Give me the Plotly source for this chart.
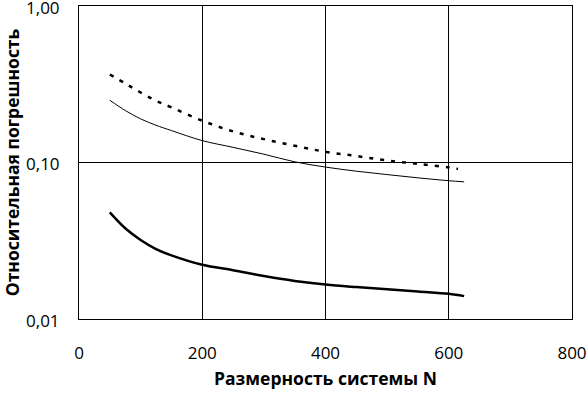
import plotly.graph_objects as go

# Data
n_values = [50, 75, 100, 125, 150, 200, 250, 300, 350, 400, 450, 500, 550, 600, 625]
err_thick = [0.048, 0.038, 0.032, 0.028, 0.0255, 0.0222, 0.0205, 0.0188, 0.0175, 0.0166,
             0.0160, 0.0155, 0.0150, 0.0145, 0.0140]
err_thin = [0.250, 0.215, 0.190, 0.173, 0.160, 0.138, 0.125, 0.113, 0.101, 0.0935,
            0.088, 0.0837, 0.0798, 0.0765, 0.0752]
n_dashed = [50, 75, 100, 125, 150, 200, 250, 300, 350, 400, 450, 500, 550, 600, 615]
err_dashed = [0.365, 0.320, 0.280, 0.248, 0.225, 0.185, 0.158, 0.141, 0.128, 0.117,
              0.110, 0.103, 0.098, 0.093, 0.091]

x_ticks = [0, 200, 400, 600, 800]
y_ticks = [0.01, 0.1, 1.0]
y_tick_labels = ["0,01", "0,10", "1,00"]

FONT = "Open Sans, Liberation Sans, sans-serif"

fig = go.Figure()
fig.add_trace(go.Scatter(x=n_dashed, y=err_dashed, mode="lines",
                         line=dict(color="black", width=2.5, dash="4px,7px"),
                         line_shape="spline", showlegend=False))
fig.add_trace(go.Scatter(x=n_values, y=err_thin, mode="lines",
                         line=dict(color="black", width=1),
                         line_shape="spline", showlegend=False))
fig.add_trace(go.Scatter(x=n_values, y=err_thick, mode="lines",
                         line=dict(color="black", width=2.5),
                         line_shape="spline", showlegend=False))

fig.update_layout(
    width=588, height=399,
    margin=dict(l=79, r=16, t=6, b=80),
    paper_bgcolor="white", plot_bgcolor="white",
    font=dict(family=FONT, size=17, color="black"),
    showlegend=False,
)
fig.update_xaxes(
    range=[0, 800], tickvals=x_ticks, ticks="", automargin=False,
    showgrid=True, gridcolor="black", gridwidth=1,
    showline=True, linecolor="black", linewidth=1, mirror=True,
    zeroline=False, ticklabelstandoff=19, ticklabeloverflow="allow",
    title=dict(text="<b>Размерность системы N</b>", standoff=9,
               font=dict(family=FONT, size=17.5, color="black")),
)
fig.update_yaxes(
    type="log", range=[-2, 0], tickvals=y_ticks, ticktext=y_tick_labels, ticks="",
    automargin=False,
    showgrid=True, gridcolor="black", gridwidth=1,
    showline=True, linecolor="black", linewidth=1, mirror=True,
    zeroline=False, ticklabelstandoff=15, ticklabeloverflow="allow",
    ticklabelshift=2,
    title=dict(text="<b>Относительная погрешность</b>", standoff=5,
               font=dict(family=FONT, size=17.5, color="black")),
)

fig.write_html("out.html", config={"displayModeBar": False},
               post_script="document.body.style.margin='0';document.body.style.padding='0';")
